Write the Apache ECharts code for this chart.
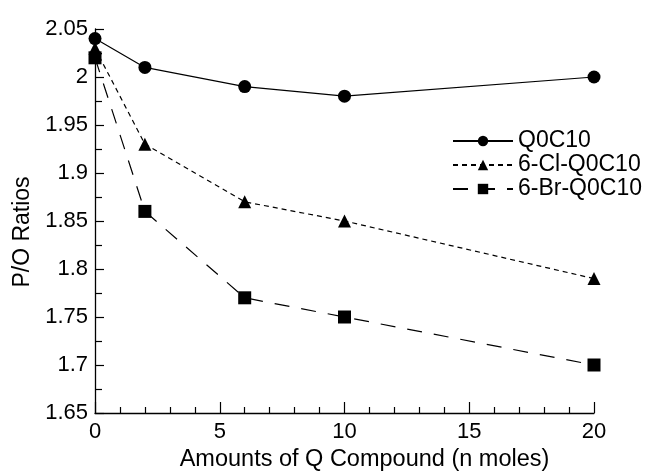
<!DOCTYPE html>
<html>
<head>
<meta charset="utf-8">
<script src="https://cdn.jsdelivr.net/npm/echarts@6/dist/echarts.min.js"></script>
<style>html,body{margin:0;padding:0;background:#fff}#c{width:646px;height:473px}</style>
</head>
<body>
<div id="c"></div>
<script>
const xValues = [0, 2, 6, 10, 20];
const q0c10 = [2.04, 2.01, 1.99, 1.98, 2.00];
const clQ0c10 = [2.03, 1.93, 1.87, 1.85, 1.79];
const brQ0c10 = [2.02, 1.86, 1.77, 1.75, 1.70];
const seriesNames = ['Q0C10', '6-Cl-Q0C10', '6-Br-Q0C10'];
const xTitle = 'Amounts of Q Compound (n moles)';
const yTitle = 'P/O Ratios';

const font = 'Liberation Sans, Arial, sans-serif';
const pair = (ys) => xValues.map((x, i) => [x, ys[i]]);

const chart = echarts.init(document.getElementById('c'), null, {renderer: 'canvas'});
chart.setOption({
  animation: false,
  backgroundColor: '#fff',
  grid: {left: 95, right: 52, top: 29, bottom: 60, containLabel: false, outerBoundsMode: 'none'},
  legend: {
    show: true,
    left: 452, top: 129, orient: 'vertical', padding: 0,
    itemWidth: 60, itemHeight: 13, itemGap: 0,
    textStyle: {fontFamily: font, fontSize: 23, lineHeight: 24, color: '#000'},
    data: seriesNames
  },
  xAxis: {
    type: 'value', min: 0, max: 20, interval: 5,
    name: xTitle, nameLocation: 'middle', nameGap: 31,
    nameTextStyle: {fontFamily: font, fontSize: 23.5, color: '#000', padding: [0, 0, 0, 40]},
    axisLine: {lineStyle: {color: '#000', width: 1.3}},
    axisTick: {inside: true, length: 11, lineStyle: {color: '#000', width: 1.2}},
    minorTick: {show: true, splitNumber: 5, length: 6, lineStyle: {color: '#000', width: 1.2}},
    axisLabel: {fontFamily: font, fontSize: 22, color: '#000', margin: 8},
    splitLine: {show: false}
  },
  yAxis: {
    type: 'value', min: 1.65, max: 2.05, interval: 0.05,
    name: yTitle, nameLocation: 'middle', nameGap: 59, nameRotate: 90,
    nameTextStyle: {fontFamily: font, fontSize: 23, color: '#000', padding: [0, 22, 0, 0]},
    axisLine: {show: true, lineStyle: {color: '#000', width: 1.3}},
    axisTick: {show: true, inside: true, length: 9, lineStyle: {color: '#000', width: 1.2}},
    minorTick: {show: true, splitNumber: 2, length: 7, lineStyle: {color: '#000', width: 1.2}},
    axisLabel: {fontFamily: font, fontSize: 22, color: '#000', margin: 7,
      formatter: v => String(+v.toFixed(2))},
    splitLine: {show: false}
  },
  series: [
    {
      name: seriesNames[0], type: 'line', data: pair(q0c10),
      symbol: 'circle', symbolSize: 13,
      itemStyle: {color: '#000'},
      lineStyle: {color: '#000', width: 1.2, type: 'solid'},
      z: 5
    },
    {
      name: seriesNames[1], type: 'line', data: pair(clQ0c10),
      symbol: 'triangle', symbolSize: 13,
      itemStyle: {color: '#000'},
      lineStyle: {color: '#000', width: 1.2, type: [5, 4]},
      z: 4
    },
    {
      name: seriesNames[2], type: 'line', data: pair(brQ0c10),
      symbol: 'rect', symbolSize: 13,
      itemStyle: {color: '#000'},
      lineStyle: {color: '#000', width: 1.2, type: [15, 12]},
      z: 3
    }
  ]
});
</script>
</body>
</html>
